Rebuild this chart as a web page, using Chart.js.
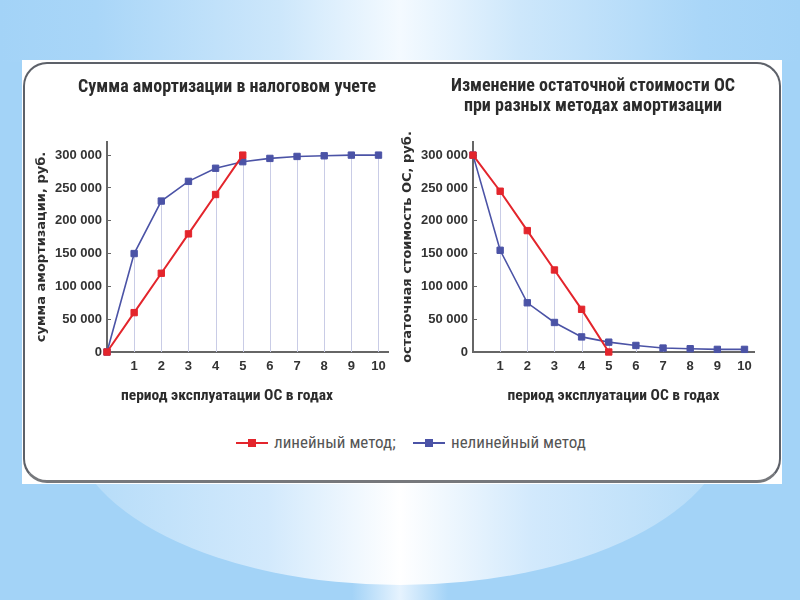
<!DOCTYPE html>
<html lang="ru">
<head>
<meta charset="utf-8">
<title>Амортизация: линейный и нелинейный метод</title>
<script src="https://cdn.jsdelivr.net/npm/chart.js@4.4.1/dist/chart.umd.min.js"></script>
<style>
  body {
    margin: 0;
    width: 800px;
    height: 600px;
    overflow: hidden;
    position: relative;
    background: linear-gradient(to right, #a3d3f7 0%, #a3d3f7 44%, #e6f3fe 50%, #a3d3f7 56%, #a3d3f7 100%);
  }
  .top-glow {
    position: absolute; left: 0; top: 0; width: 800px; height: 62px;
    background: linear-gradient(to right, #a3d3f7 0%, #a9d6f8 12%, #cde7fb 35%, #f4faff 50%, #cde7fb 65%, #a9d6f8 88%, #a3d3f7 100%);
  }
  .bottom-glow {
    position: absolute; left: 70px; top: 255px; width: 660px; height: 330px; border-radius: 50%;
    background: linear-gradient(to right, #b3dbf8 0%, #d2e9fc 30%, #ffffff 50%, #d2e9fc 70%, #b3dbf8 100%);
  }
  .panel { position: absolute; left: 22px; top: 60px; width: 760px; height: 424px; background: #fff; }
  .frame {
    position: absolute; left: 23px; top: 62px; width: 754px; height: 416px;
    border: 2px solid #5d6169; border-bottom: 3px solid #76787c; border-radius: 24px;
  }
  canvas { position: absolute; top: 62px; }
  #amortChart { left: 22px; }
  #residualChart { left: 397px; }
  .legend-item {
    position: absolute; top: 432px; height: 22px; line-height: 22px;
    font: 17px "Roboto Condensed", sans-serif; color: #555; white-space: nowrap;
  }
  .legend-item i {
    display: inline-block; position: relative; width: 32px; height: 2px;
    vertical-align: middle; margin-right: 6px; top: -1px;
  }
  .legend-item i::after {
    content: ""; position: absolute; left: 12px; top: -3px; width: 8px; height: 8px; background: inherit;
  }
</style>
</head>
<body>
<div class="top-glow"></div>
<div class="bottom-glow"></div>
<div class="panel"></div>
<div class="frame"></div>
<canvas id="amortChart" width="410" height="350"></canvas>
<canvas id="residualChart" width="392" height="350"></canvas>
<div id="legend"></div>

<script>
const years = [0, 1, 2, 3, 4, 5, 6, 7, 8, 9, 10];
const xTicks = [1, 2, 3, 4, 5, 6, 7, 8, 9, 10];
const yTicks = [0, 50000, 100000, 150000, 200000, 250000, 300000];
const seriesNames = ['линейный метод', 'нелинейный метод'];
const seriesColors = ['#e3252c', '#4b53a6'];

// сумма амортизации, руб.
const amortLinear = [0, 60000, 120000, 180000, 240000, 300000];
const amortNonlinear = [0, 150000, 230000, 260000, 280000, 290000, 295000, 298000, 299000, 300000, 300000];

// остаточная стоимость ОС, руб.
const residualLinear = [300000, 245000, 185000, 125000, 65000, 0];
const residualNonlinear = [300000, 155000, 75000, 45000, 23000, 15000, 10000, 6000, 5000, 4000, 4000];

const fmt = v => String(v).replace(/\B(?=(\d{3})+(?!\d))/g, ' ');

// thin vertical lines from the highest point of each year down to the axis
const dropLines = {
  id: 'dropLines',
  beforeDatasetsDraw(chart) {
    const {ctx, chartArea} = chart;
    ctx.save();
    ctx.strokeStyle = '#c9cce6';
    ctx.lineWidth = 1;
    xTicks.forEach(year => {
      const idx = chart.data.labels.indexOf(year);
      let top = null, px = null;
      chart.data.datasets.forEach((ds, i) => {
        const pt = chart.getDatasetMeta(i).data[idx];
        if (pt && (top === null || pt.y < top)) { top = pt.y; px = pt.x; }
      });
      if (top === null) return;
      ctx.beginPath();
      ctx.moveTo(Math.round(px) + 0.5, top);
      ctx.lineTo(Math.round(px) + 0.5, chartArea.bottom);
      ctx.stroke();
    });
    ctx.restore();
  }
};

function dataset(i, data) {
  return {
    label: seriesNames[i],
    data: data,
    borderColor: seriesColors[i],
    backgroundColor: seriesColors[i],
    borderWidth: i === 0 ? 2 : 1.6,
    pointStyle: 'rect',
    pointRadius: 4.5,
    pointBorderWidth: 1,
    pointBorderColor: seriesColors[i],
    tension: 0,
    clip: false
  };
}

const tickFont = {family: 'Liberation Sans', weight: 'bold', size: 13};
const axisTitleFont = {family: 'Roboto Condensed', weight: 'bold', size: 15.5};
const titleFont = {family: 'Roboto Condensed', weight: 'bold', size: 18};

function yAxis(title, width, titleGap) {
  return {
    min: 0,
    max: 320000,
    afterBuildTicks: s => { s.ticks = yTicks.map(v => ({value: v})); },
    afterFit: s => { s.width = width; },
    grid: {drawOnChartArea: false, drawTicks: true, tickLength: -4, color: '#666'},
    border: {color: '#666', width: 2},
    ticks: {padding: 9, color: '#333', font: tickFont, callback: v => fmt(v)},
    title: {
      display: true, text: title, color: '#2f2f2f',
      font: {family: 'DejaVu Sans', weight: 'bold', size: 13},
      padding: {top: titleGap, bottom: 0}
    }
  };
}

function xAxis(height, title) {
  const axis = {
    type: 'linear',
    min: 0,
    max: 10.35,
    afterBuildTicks: s => { s.ticks = xTicks.map(v => ({value: v})); },
    afterFit: s => { s.height = height; },
    grid: {drawOnChartArea: false, drawTicks: false},
    border: {color: '#666', width: 2},
    ticks: {padding: 7, color: '#333', font: tickFont}
  };
  if (title) {
    axis.title = {display: true, text: title, color: '#2b2b2b', font: axisTitleFont, padding: {top: 0, bottom: 6.7}};
  }
  return axis;
}

// empty right-hand axis, only reserves room so the chart title sits where it should
function spacer(width) {
  return {
    type: 'linear',
    position: 'right',
    afterFit: s => { s.width = width; },
    grid: {display: false},
    border: {display: false},
    ticks: {display: false}
  };
}

new Chart(document.getElementById('amortChart'), {
  type: 'line',
  data: {
    labels: years,
    datasets: [dataset(0, amortLinear), dataset(1, amortNonlinear)]
  },
  options: {
    responsive: false,
    animation: false,
    layout: {padding: 0},
    scales: {
      x: xAxis(30),
      y: yAxis('сумма амортизации, руб.', 85, 12.2),
      pad: spacer(44)
    },
    plugins: {
      legend: {display: false},
      tooltip: {enabled: false},
      title: {
        display: true,
        text: 'Сумма амортизации в налоговом учете',
        color: '#2b2b2b',
        font: titleFont,
        padding: {top: 14.2, bottom: 44.2}
      },
      subtitle: {
        display: true,
        position: 'bottom',
        text: 'период эксплуатации ОС в годах',
        color: '#2b2b2b',
        font: axisTitleFont,
        padding: {top: 4.7, bottom: 6.7}
      }
    }
  },
  plugins: [dropLines]
});

new Chart(document.getElementById('residualChart'), {
  type: 'line',
  data: {
    labels: years,
    datasets: [dataset(0, residualLinear), dataset(1, residualNonlinear)]
  },
  options: {
    responsive: false,
    animation: false,
    layout: {padding: 0},
    scales: {
      x: xAxis(60, 'период эксплуатации ОС в годах'),
      y: yAxis('остаточная стоимость ОС, руб.', 76, 3.2),
      pad: spacer(35)
    },
    plugins: {
      legend: {display: false},
      tooltip: {enabled: false},
      title: {
        display: true,
        text: ['Изменение остаточной стоимости ОС', 'при разных методах амортизации'],
        color: '#2b2b2b',
        font: {...titleFont, lineHeight: 1.111},
        padding: {top: 15, bottom: 25}
      }
    }
  },
  plugins: [dropLines]
});

// shared legend under both charts
const legendLeft = [236, 413];
const legend = document.getElementById('legend');
seriesNames.forEach((name, i) => {
  const item = document.createElement('div');
  item.className = 'legend-item';
  item.style.left = legendLeft[i] + 'px';
  const mark = document.createElement('i');
  mark.style.background = seriesColors[i];
  item.appendChild(mark);
  item.appendChild(document.createTextNode(i === 0 ? name + ';' : name));
  legend.appendChild(item);
});
</script>
</body>
</html>
